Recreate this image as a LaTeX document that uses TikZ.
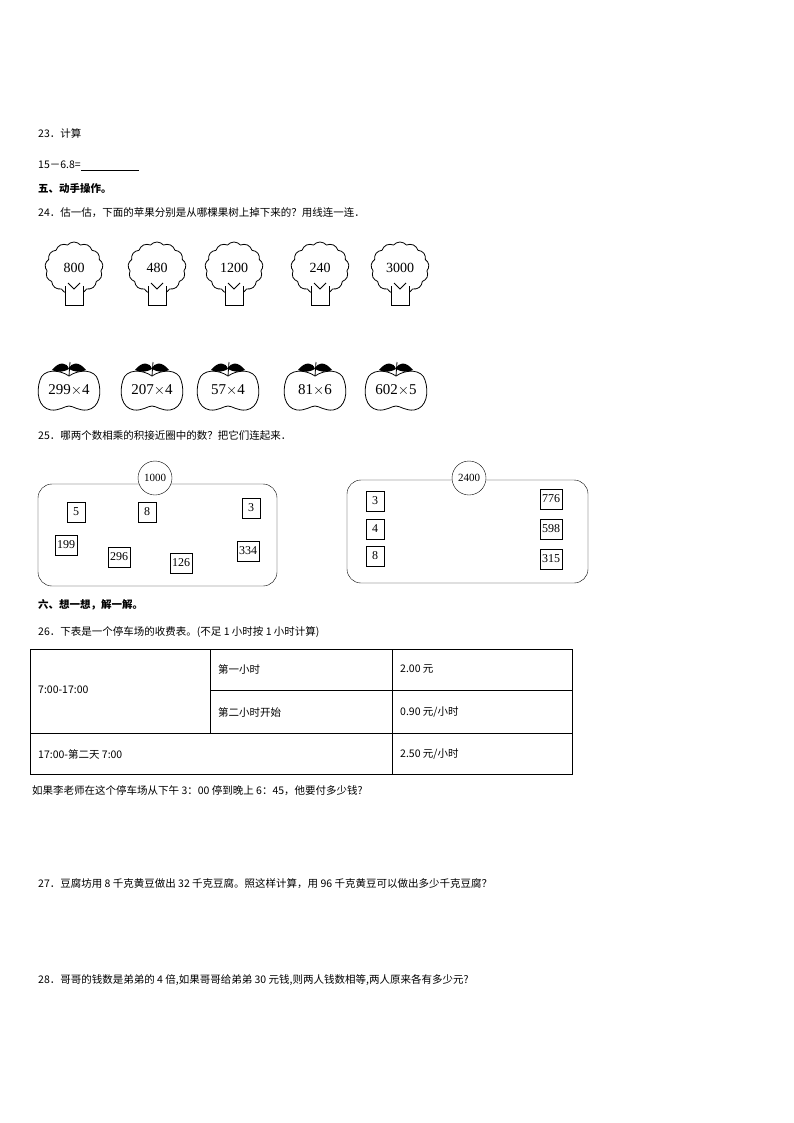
\documentclass[tikz,border=0pt]{standalone}
\usepackage{fontspec}
\setmainfont{Liberation Serif}
\newfontfamily\cjk{Noto Sans CJK SC}
\usetikzlibrary{shapes.symbols}
\begin{document}
\begin{tikzpicture}[x=1pt,y=-1pt,
  txt/.style={anchor=west,inner sep=0,font=\cjk\fontsize{10.5}{12}\selectfont},
  btxt/.style={txt,font=\cjk\bfseries\fontsize{10.5}{12}\selectfont},
  crown/.style={cloud,cloud puffs=13,cloud puff arc=100,aspect=1.1,draw,thick,minimum width=58pt,minimum height=52pt,inner sep=0,font=\fontsize{14}{15}\selectfont},
  nb/.style={draw,inner sep=2pt,minimum width=18pt,minimum height=20pt,font=\fontsize{12}{13}\selectfont},
  nc/.style={draw,circle,fill=white,inner sep=1pt,minimum size=34pt,font=\fontsize{11}{12}\selectfont},
  cell/.style={anchor=west,inner sep=0,font=\cjk\fontsize{10.5}{12}\selectfont}]
\useasboundingbox (0,0) rectangle (794,1123);
\node[txt] (t23) at (38,133) {23．计算};
\node[txt] (t23a) at (38,166) {15－6.8=\underline{\hspace{58pt}}};
\node[btxt] (t5) at (38,189) {五、动手操作。};
\node[txt] (t24) at (38,213) {24．估一估，下面的苹果分别是从哪棵果树上掉下来的？用线连一连．};
% trees
\foreach \n/\x/\v in {a/74/800,b/157/480,c/234/1200,d/320/240,e/400/3000}{
  \node[crown] (tr\n) at (\x,268) {\v};
  \draw[thick,fill=white] (\x-9,286) -- (\x-9,305) -- (\x+9,305) -- (\x+9,286);
  \draw[thick] (\x-6,283) -- (\x,289) -- (\x+6,283);
}
% apples
\foreach \n/\x/\v in {a/69/299,b/152/207,c/228/57,d/315/81,e/396/602}{
  \draw[thick] (\x,376) .. controls (\x-10,369) and (\x-26,369) .. (\x-29,380)
     .. controls (\x-33,392) and (\x-31,408) .. (\x-18,410)
     .. controls (\x-10,411) and (\x-4,406) .. (\x,406)
     .. controls (\x+4,406) and (\x+10,411) .. (\x+18,410)
     .. controls (\x+31,408) and (\x+33,392) .. (\x+29,380)
     .. controls (\x+26,369) and (\x+10,369) .. (\x,376);
  \fill (\x-17,370) .. controls (\x-10,361) and (\x-2,362) .. (\x,369) .. controls (\x-5,372) and (\x-12,373) .. (\x-17,370);
  \fill (\x+17,370) .. controls (\x+10,361) and (\x+2,362) .. (\x,369) .. controls (\x+5,372) and (\x+12,373) .. (\x+17,370);
  \draw[thick] (\x,376) -- (\x+1,362);
}
\node[font=\fontsize{15}{16}\selectfont] (apa) at (69,390) {299$\times$4};
\node[font=\fontsize{15}{16}\selectfont] (apb) at (152,390) {207$\times$4};
\node[font=\fontsize{15}{16}\selectfont] (apc) at (228,390) {57$\times$4};
\node[font=\fontsize{15}{16}\selectfont] (apd) at (315,390) {81$\times$6};
\node[font=\fontsize{15}{16}\selectfont] (ape) at (396,390) {602$\times$5};
\node[txt] (t25) at (38,436) {25．哪两个数相乘的积接近圈中的数？把它们连起来．};
% box 1
\draw[rounded corners=14pt] (38,484) rectangle (277,586);
\node[nc] (c1) at (155,478) {1000};
\node[nb] (b5) at (76,512) {5};
\node[nb] (b8) at (147,512) {8};
\node[nb] (b3) at (251,508) {3};
\node[nb] (b199) at (66,545) {199};
\node[nb] (b296) at (119,557) {296};
\node[nb] (b126) at (181,563) {126};
\node[nb] (b334) at (248,551) {334};
% box 2
\draw[rounded corners=14pt] (347,480) rectangle (588,583);
\node[nc] (c2) at (469,478) {2400};
\node[nb] (d3) at (375,501) {3};
\node[nb] (d4) at (375,529) {4};
\node[nb] (d8) at (375,556) {8};
\node[nb] (d776) at (551,499) {776};
\node[nb] (d598) at (551,529) {598};
\node[nb] (d315) at (551,559) {315};
\node[btxt] (t6) at (38,605) {六、想一想，解一解。};
\node[txt] (t26) at (38,632) {26．下表是一个停车场的收费表。(不足 1 小时按 1 小时计算)};
% table
\draw (30,649) rectangle (572,774);
\draw (30,733) -- (572,733);
\draw (210,690) -- (572,690);
\draw (210,649) -- (210,733);
\draw (392,649) -- (392,774);
\node[cell] (k1) at (38,690) {7:00-17:00};
\node[cell] (k2) at (218,669) {第一小时};
\node[cell] (k3) at (218,712) {第二小时开始};
\node[cell] (k4) at (400,669) {2.00 元};
\node[cell] (k5) at (400,712) {0.90 元/小时};
\node[cell] (k6) at (38,754) {17:00-第二天 7:00};
\node[cell] (k7) at (400,754) {2.50 元/小时};
\node[txt] (t26q) at (32,791) {如果李老师在这个停车场从下午 3：00 停到晚上 6：45，他要付多少钱?};
\node[txt] (t27) at (38,884) {27．豆腐坊用 8 千克黄豆做出 32 千克豆腐。照这样计算，用 96 千克黄豆可以做出多少千克豆腐？};
\node[txt] (t28) at (38,980) {28．哥哥的钱数是弟弟的 4 倍,如果哥哥给弟弟 30 元钱,则两人钱数相等,两人原来各有多少元?};
\end{tikzpicture}
\end{document}
